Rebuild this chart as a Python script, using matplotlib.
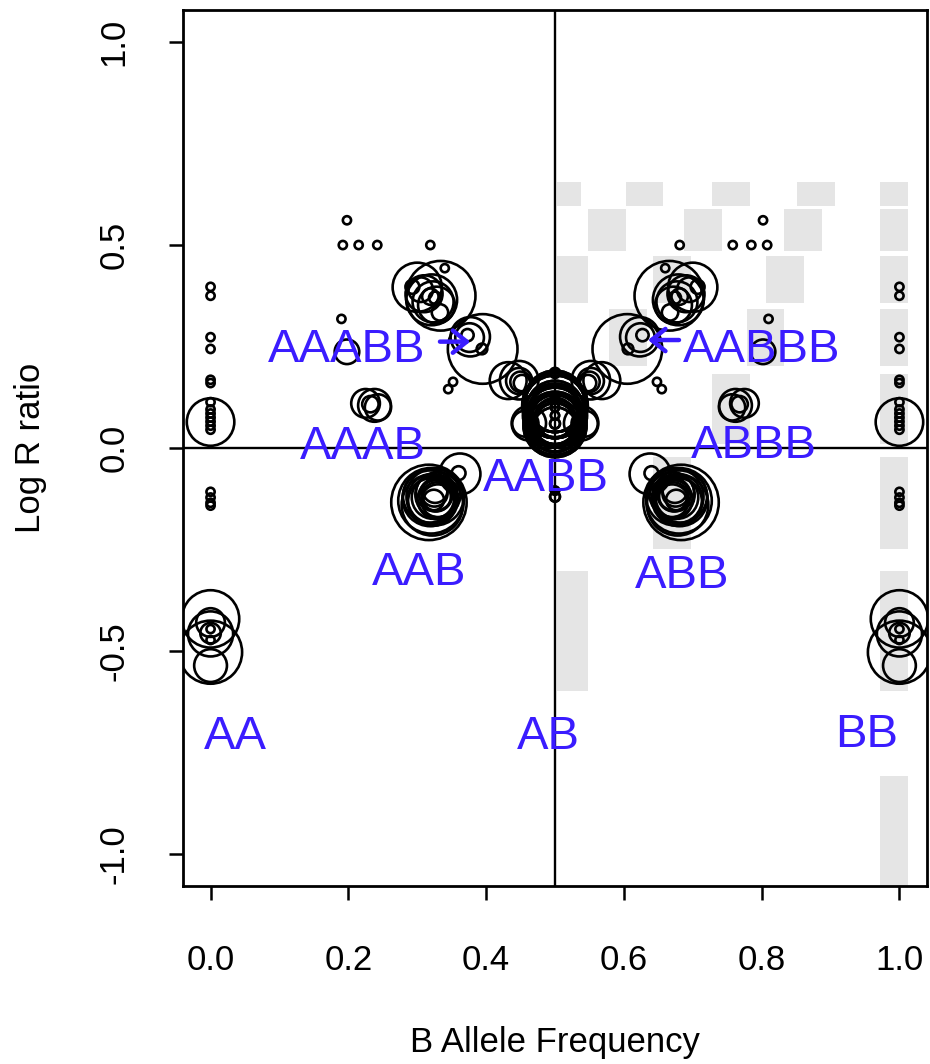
import numpy as np
import matplotlib.pyplot as plt
from matplotlib.patches import Rectangle

plt.rcParams['font.family'] = ['Liberation Sans', 'DejaVu Sans']

# points read from the left half (BAF <= 0.5); every point is also drawn at 1-BAF
baf = [0, 0, 0, 0, 0, 0,
       0, 0, 0, 0, 0, 0, 0, 0,
       0, 0, 0, 0,
       0, 0, 0, 0, 0, 0, 0, 0,
       0.198, 0.192, 0.215, 0.242, 0.319, 0.19, 0.198,
       0.225, 0.232, 0.238, 0.243,
       0.300, 0.334, 0.321, 0.328, 0.34, 0.293, 0.333, 0.319, 0.323, 0.31, 0.326, 0.305,
       0.395, 0.377, 0.376, 0.373, 0.394, 0.352, 0.345,
       0.432, 0.448, 0.448, 0.45, 0.452,
       0.462, 0.457,
       0.5, 0.5, 0.5, 0.5, 0.5, 0.5, 0.5, 0.5, 0.5, 0.5, 0.5, 0.5, 0.5, 0.5, 0.5, 0.5, 0.5, 0.5, 0.5,
       0.5, 0.5, 0.5, 0.5, 0.5, 0.5, 0.5, 0.5,
       0.317, 0.362, 0.36, 0.326, 0.322, 0.33, 0.325, 0.32, 0.328, 0.324, 0.318, 0.33, 0.322, 0.326,
       0.323, 0.327, 0.319, 0.325, 0.321, 0.329]
lrr = [0.397, 0.375, 0.273, 0.244, 0.168, 0.160,
       0.113, 0.095, 0.085, 0.075, 0.065, 0.055, 0.045, 0.064,
       -0.108, -0.122, -0.135, -0.142,
       -0.421, -0.43, -0.458, -0.456, -0.446, -0.473, -0.503, -0.536,
       0.561, 0.50, 0.50, 0.50, 0.50, 0.318, 0.237,
       0.11, 0.108, 0.105, 0.10,
       0.396, 0.375, 0.365, 0.352, 0.443, 0.397, 0.334, 0.373, 0.36, 0.38, 0.37, 0.39,
       0.244, 0.274, 0.272, 0.278, 0.244, 0.163, 0.145,
       0.166, 0.167, 0.165, 0.163, 0.16,
       0.061, 0.06,
       0.185, -0.12, -0.105, 0.115, 0.105, 0.095, 0.09, 0.08, 0.07, 0.065, 0.055, 0.05, 0.045, 0.06, 0.075, 0.1, 0.08, 0.06, 0.12,
       0.112, 0.102, 0.088, 0.078, 0.068, 0.058, 0.052, 0.098,
       -0.134, -0.064, -0.062, -0.12, -0.125, -0.115, -0.11, -0.13, -0.12, -0.128, -0.118, -0.13, -0.14, -0.105,
       -0.122, -0.116, -0.124, -0.112, -0.133, -0.127]
cex = [1, 1, 1, 1, 1, 1,
       1, 1, 1, 1, 1, 1, 1, 5.8,
       1, 1, 1, 1,
       7, 3.5, 5.5, 2.5, 1, 1, 7.7, 4,
       1, 1, 1, 1, 1, 1, 3,
       3.5, 2, 4, 3.2,
       6, 8.5, 6.2, 4.5, 1, 1.7, 2, 2, 5, 4.5, 1.5, 3,
       8.5, 4.8, 3.5, 1.5, 1.3, 1, 1,
       4.5, 4.7, 3.2, 2.5, 2,
       4.2, 3.2,
       1.2, 1.2, 1, 7.5, 8, 7, 6.5, 7.8, 6, 7.3, 7.7, 6.8, 5.5, 5, 4.8, 1, 1, 1.2, 1,
       7.2, 7.6, 6.2, 7.0, 6.6, 7.4, 6.0, 5.8,
       9.2, 5, 1.7, 7, 6, 5.5, 4.5, 8, 3.5, 2.5, 6.5, 4, 7.5, 3,
       5.2, 4.0, 6.8, 3.2, 5.8, 4.8]

# light grey cells in the background
cell_x0 = [0.503, 0.603, 0.728, 0.852, 0.972,
           0.548, 0.687, 0.832, 0.972,
           0.503, 0.642, 0.807, 0.972,
           0.578, 0.778, 0.972,
           0.728, 0.972,
           0.642, 0.972,
           0.503, 0.972,
           0.972]
cell_x1 = [0.538, 0.657, 0.783, 0.907, 1.012,
           0.603, 0.742, 0.887, 1.012,
           0.548, 0.697, 0.862, 1.012,
           0.633, 0.832, 1.012,
           0.783, 1.012,
           0.697, 1.012,
           0.548, 1.012,
           1.012]
cell_y0 = [0.596] * 5 + [0.485] * 4 + [0.357] * 4 + [0.202] * 3 + [0.010] * 2 + [-0.249] * 2 + [-0.599] * 2 + [-1.079]
cell_y1 = [0.656] * 5 + [0.589] * 4 + [0.473] * 4 + [0.342] * 3 + [0.182] * 2 + [-0.022] * 2 + [-0.303] * 2 + [-0.808]

labels = ['AA', 'AB', 'BB', 'AAB', 'ABB', 'AAAB', 'ABBB', 'AABB', 'AAABB', 'AABBB']
label_x = [0.036, 0.49, 0.953, 0.303, 0.685, 0.221, 0.789, 0.487, 0.197, 0.80]
label_y = [-0.712, -0.712, -0.706, -0.308, -0.315, 0.003, 0.005, -0.076, 0.242, 0.242]

xticks = [0.0, 0.2, 0.4, 0.6, 0.8, 1.0]
yticks = [-1.0, -0.5, 0.0, 0.5, 1.0]

blue = '#3a1cff'

fig = plt.figure(figsize=(9.3, 10.64), dpi=100)
ax = fig.add_axes([183 / 930, 1 - 886 / 1064, 744 / 930, 876 / 1064])

for i in range(len(cell_x0)):
    ax.add_patch(Rectangle((cell_x0[i], cell_y0[i]), cell_x1[i] - cell_x0[i], cell_y1[i] - cell_y0[i],
                           facecolor='#e5e5e5', edgecolor='none', zorder=0))

ax.axvline(0.5, color='black', lw=1.7, zorder=1)
ax.axhline(0.0, color='black', lw=1.7, zorder=1)

b = np.array(baf)
sz = (5.9 * np.array(cex)) ** 2
ax.scatter(np.concatenate([b, 1 - b]), lrr + lrr, s=np.concatenate([sz, sz]),
           facecolors='none', edgecolors='black', linewidths=1.9, zorder=2)

for t, x, y in zip(labels, label_x, label_y):
    ax.text(x, y, t, color=blue, fontsize=34, ha='center', va='center', zorder=3)

ax.annotate('', xy=(0.377, 0.262), xytext=(0.333, 0.262),
            arrowprops=dict(arrowstyle='->,head_length=0.4,head_width=0.32', lw=3.2,
                            color=blue, mutation_scale=25, shrinkA=0, shrinkB=0), zorder=3)
ax.annotate('', xy=(0.635, 0.266), xytext=(0.68, 0.266),
            arrowprops=dict(arrowstyle='->,head_length=0.4,head_width=0.32', lw=3.2,
                            color=blue, mutation_scale=25, shrinkA=0, shrinkB=0), zorder=3)

ax.set_xlim(-0.04, 1.04)
ax.set_ylim(-1.079, 1.079)
ax.set_xticks(xticks)
ax.set_xticklabels(['%.1f' % v for v in xticks], fontsize=25)
ax.set_yticks(yticks)
ax.set_yticklabels(['%.1f' % v for v in yticks], fontsize=25, rotation=90, va='center')
ax.tick_params(direction='out', length=10, width=1.8)
ax.tick_params(axis='x', pad=32)
ax.tick_params(axis='y', pad=28)
for s in ax.spines.values():
    s.set_linewidth(2.0)

ax.set_xlabel('B Allele Frequency', fontsize=25, va='center')
ax.xaxis.set_label_coords(0.5, -0.179)
ax.set_ylabel('Log R ratio', fontsize=25, va='center')
ax.yaxis.set_label_coords(-0.2056, 0.5)

fig.savefig('out.png', dpi=100)
